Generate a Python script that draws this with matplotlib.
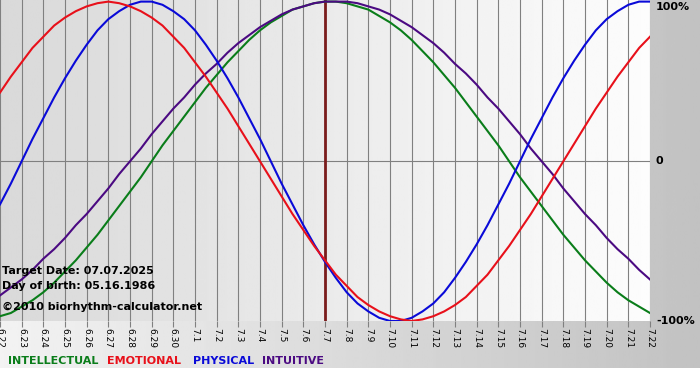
"""
Biorhythm chart, 31 days around target date 07.07.2025 (birth 05.16.1986).
Saves out.png at 700x380.
"""

import matplotlib
matplotlib.use("Agg")
import matplotlib.pyplot as plt
import numpy as np

# day labels along the x axis
DAYS = ["6.22", "6.23", "6.24", "6.25", "6.26", "6.27", "6.28", "6.29", "6.30",
        "7.1", "7.2", "7.3", "7.4", "7.5", "7.6", "7.7", "7.8", "7.9", "7.10",
        "7.11", "7.12", "7.13", "7.14", "7.15", "7.16", "7.17", "7.18", "7.19",
        "7.20", "7.21", "7.22"]
TARGET_DAY = "7.7"

# cycle values (-1 .. 1) read every half day, starting at 6.22
PHYSICAL = [-0.27, -0.14, 0.00, 0.14, 0.27, 0.40, 0.52, 0.63, 0.73, 0.82,
            0.89, 0.94, 0.98, 1.00, 1.00, 0.98, 0.94, 0.89, 0.82, 0.73,
            0.63, 0.52, 0.40, 0.27, 0.14, 0.00, -0.14, -0.27, -0.40, -0.52,
            -0.63, -0.73, -0.82, -0.89, -0.94, -0.98, -1.00, -1.00, -0.98, -0.94,
            -0.89, -0.82, -0.73, -0.63, -0.52, -0.40, -0.27, -0.14, 0.00, 0.14,
            0.27, 0.40, 0.52, 0.63, 0.73, 0.82, 0.89, 0.94, 0.98, 1.00, 1.00]
EMOTIONAL = [0.43, 0.53, 0.62, 0.71, 0.78, 0.85, 0.90, 0.94, 0.97, 0.99,
             1.00, 0.99, 0.97, 0.94, 0.90, 0.85, 0.78, 0.71, 0.62, 0.53,
             0.43, 0.33, 0.22, 0.11, 0.00, -0.11, -0.22, -0.33, -0.43, -0.53,
             -0.62, -0.71, -0.78, -0.85, -0.90, -0.94, -0.97, -0.99, -1.00, -0.99,
             -0.97, -0.94, -0.90, -0.85, -0.78, -0.71, -0.62, -0.53, -0.43, -0.33,
             -0.22, -0.11, 0.00, 0.11, 0.22, 0.33, 0.43, 0.53, 0.62, 0.71, 0.78]
INTELLECTUAL = [-0.97, -0.95, -0.91, -0.87, -0.82, -0.76, -0.69, -0.62, -0.54, -0.46,
                -0.37, -0.28, -0.19, -0.10, 0.00, 0.10, 0.19, 0.28, 0.37, 0.46,
                0.54, 0.62, 0.69, 0.76, 0.82, 0.87, 0.91, 0.95, 0.97, 0.99,
                1.00, 1.00, 0.99, 0.97, 0.95, 0.91, 0.87, 0.82, 0.76, 0.69,
                0.62, 0.54, 0.46, 0.37, 0.28, 0.19, 0.10, 0.00, -0.10, -0.19,
                -0.28, -0.37, -0.46, -0.54, -0.62, -0.69, -0.76, -0.82, -0.87, -0.91,
                -0.95]
INTUITIVE = [-0.84, -0.79, -0.74, -0.68, -0.61, -0.55, -0.48, -0.40, -0.33, -0.25,
             -0.17, -0.08, 0.00, 0.08, 0.17, 0.25, 0.33, 0.40, 0.48, 0.55,
             0.61, 0.68, 0.74, 0.79, 0.84, 0.88, 0.92, 0.95, 0.97, 0.99,
             1.00, 1.00, 1.00, 0.99, 0.97, 0.95, 0.92, 0.88, 0.84, 0.79,
             0.74, 0.68, 0.61, 0.55, 0.48, 0.40, 0.33, 0.25, 0.17, 0.08,
             0.00, -0.08, -0.17, -0.25, -0.33, -0.40, -0.48, -0.55, -0.61, -0.68,
             -0.74]
STEP = 0.5  # days between samples

COLORS = {
    "INTELLECTUAL": "#0a7d1a",
    "EMOTIONAL":    "#e8101a",
    "PHYSICAL":     "#0a0ad8",
    "INTUITIVE":    "#4b0a82",
}

W, H = 700, 380
fig = plt.figure(figsize=(W / 100, H / 100), dpi=100, facecolor="white")

# background strip: light on the left, gray on the right
bg = fig.add_axes([0, 1 - 368 / H, 1, 368 / H])
bg.imshow(np.linspace(0.95, 0.76, 256)[None, :], cmap="gray", vmin=0, vmax=1,
          aspect="auto", extent=[0, 1, 0, 1])
bg.set_axis_off()

ax = fig.add_axes([0, 1 - 321 / H, 650 / W, 321 / H])
days = np.arange(len(DAYS))
ax.imshow(np.linspace(0.85, 0.99, 256)[None, :], cmap="gray", vmin=0, vmax=1,
          aspect="auto", extent=[0, len(DAYS) - 1, -1.0, 1.01], zorder=0)
ax.set_xlim(0, len(DAYS) - 1)
ax.set_ylim(-1.0, 1.01)

for d in days:
    ax.axvline(d, color="#808080", lw=0.8, zorder=1)
ax.axhline(0, color="#808080", lw=0.8, zorder=1)
ax.axvline(DAYS.index(TARGET_DAY), color="#7a1c1c", lw=2.0, zorder=2)

t = np.arange(len(PHYSICAL)) * STEP
ax.plot(t, INTELLECTUAL, color=COLORS["INTELLECTUAL"], lw=1.5, zorder=3)
ax.plot(t, INTUITIVE, color=COLORS["INTUITIVE"], lw=1.5, zorder=3)
ax.plot(t, PHYSICAL, color=COLORS["PHYSICAL"], lw=1.5, zorder=3)
ax.plot(t, EMOTIONAL, color=COLORS["EMOTIONAL"], lw=1.5, zorder=3)

for s in ax.spines.values():
    s.set_visible(False)
ax.set_yticks([])
ax.set_xticks(days)
ax.set_xticklabels(DAYS, rotation=270, fontsize=6.5)
ax.tick_params(axis="x", length=4, width=0.8, color="#808080", pad=1)

# right-hand percentage labels
for ypix, lab in [(7, "100%"), (161, "0"), (321, "-100%")]:
    fig.text(656 / W, 1 - ypix / H, lab,
             fontsize=8, fontweight="bold", ha="left", va="center")

# info text inside the plot
info = [("Target Date: 07.07.2025", 271), ("Day of birth: 05.16.1986", 286),
        ("\u00a92010 biorhythm-calculator.net", 307)]
for txt, ypix in info:
    fig.text(2 / W, 1 - ypix / H, txt, fontsize=8, fontweight="bold",
             ha="left", va="center", zorder=5)

# legend row
for name, xpix in [("INTELLECTUAL", 8), ("EMOTIONAL", 107), ("PHYSICAL", 193),
                   ("INTUITIVE", 262)]:
    fig.text(xpix / W, 1 - 361 / H, name, color=COLORS[name], fontsize=8,
             fontweight="bold", ha="left", va="center")

fig.savefig("out.png", dpi=100, facecolor="white")
